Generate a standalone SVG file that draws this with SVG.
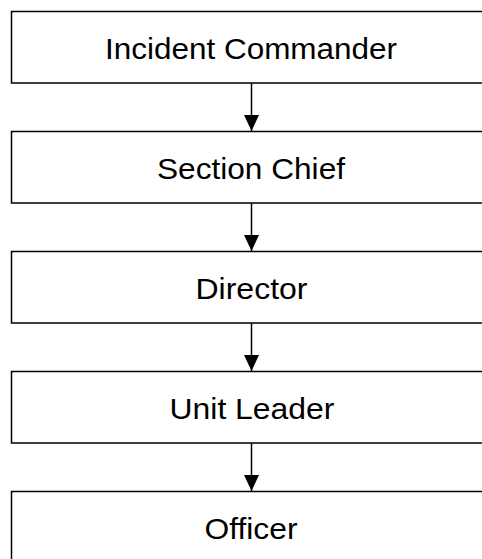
<svg xmlns="http://www.w3.org/2000/svg" width="482" height="559" viewBox="0 0 482 559">
  <style>
    .box { fill: #ffffff; stroke: #000000; stroke-width: 1.5; }
    .label { font-family: "Liberation Sans", Arial, sans-serif; font-size: 30px; fill: #000000; text-anchor: middle; }
    .link { stroke: #000000; stroke-width: 1.5; fill: none; marker-end: url(#arrow); }
  </style>
  <defs>
    <marker id="arrow" markerUnits="userSpaceOnUse" markerWidth="16" markerHeight="16" refX="16" refY="7.5" orient="auto">
      <path d="M0,0 L16,7.5 L0,15 Z" fill="#000000"/>
    </marker>
  </defs>

  <g id="connectors">
    <line class="link" x1="251.5" y1="82.5" x2="251.5" y2="131"/>
    <line class="link" x1="251.5" y1="202.5" x2="251.5" y2="251"/>
    <line class="link" x1="251.5" y1="322.5" x2="251.5" y2="371"/>
    <line class="link" x1="251.5" y1="442.5" x2="251.5" y2="491"/>
  </g>

  <g id="incident-commander">
    <rect class="box" x="11.5" y="11.5" width="480" height="71.5"/>
    <text class="label" x="251" y="58.8" textLength="292" lengthAdjust="spacingAndGlyphs">Incident Commander</text>
  </g>
  <g id="section-chief">
    <rect class="box" x="11.5" y="131.5" width="480" height="71.5"/>
    <text class="label" x="251" y="178.8" textLength="188" lengthAdjust="spacingAndGlyphs">Section Chief</text>
  </g>
  <g id="director">
    <rect class="box" x="11.5" y="251.5" width="480" height="71.5"/>
    <text class="label" x="251.5" y="298.8" textLength="112" lengthAdjust="spacingAndGlyphs">Director</text>
  </g>
  <g id="unit-leader">
    <rect class="box" x="11.5" y="371.5" width="480" height="71.5"/>
    <text class="label" x="252" y="418.8" textLength="165" lengthAdjust="spacingAndGlyphs">Unit Leader</text>
  </g>
  <g id="officer">
    <rect class="box" x="11.5" y="491.5" width="480" height="71.5"/>
    <text class="label" x="251" y="538.8" textLength="93" lengthAdjust="spacingAndGlyphs">Officer</text>
  </g>
</svg>
